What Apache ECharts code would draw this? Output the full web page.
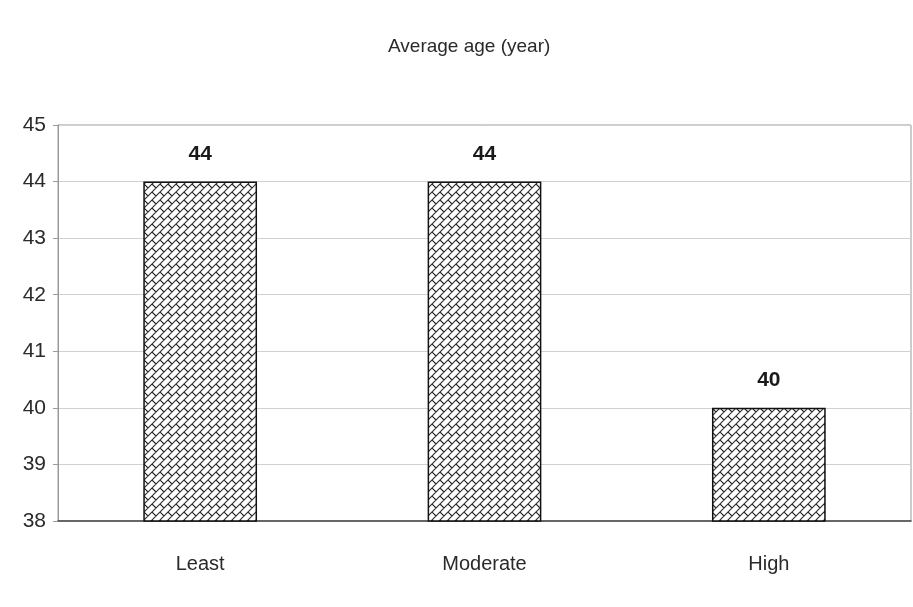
<!DOCTYPE html>
<html>
<head>
<meta charset="utf-8">
<script src="https://cdn.jsdelivr.net/npm/echarts@6/dist/echarts.min.js"></script>
<style>
  html, body { margin: 0; padding: 0; background: #ffffff; }
  #chart { width: 913px; height: 607px; }
</style>
</head>
<body>
<div id="chart"></div>
<script>
// Average age by level group
const categories = ['Least', 'Moderate', 'High'];
const averageAge = [44, 44, 40];
const yTicks = [38, 39, 40, 41, 42, 43, 44, 45];
const chartTitle = 'Average age (year)';

const FONT = "'Liberation Sans Narrow', 'Arial Narrow', 'Liberation Sans', Arial, sans-serif";

// Brick-style diagonal hatch tile (16 x 16, seamless)
function makeBrickTile() {
  const S = 16, P = 8, Q = 16;
  const c = document.createElement('canvas');
  c.width = S; c.height = S;
  const g = c.getContext('2d');
  g.fillStyle = '#ffffff';
  g.fillRect(0, 0, S, S);
  g.strokeStyle = '#2a2a2a';
  g.lineWidth = 1.1;
  g.beginPath();
  // long courses running up-right: x + y = const
  for (let k = -4; k <= 8; k++) {
    const s = P * k;
    g.moveTo(-16, s + 16);
    g.lineTo(32, s - 32);
  }
  // brick joints: x - y = const, staggered per course
  for (let r = -4; r <= 8; r++) {
    for (let j = -4; j <= 6; j++) {
      const m = Q * j - (r % 2 === 0 ? 0 : Q / 2);
      const s0 = P * r, s1 = P * r + P;
      g.moveTo((s0 + m) / 2, (s0 - m) / 2);
      g.lineTo((s1 + m) / 2, (s1 - m) / 2);
    }
  }
  g.stroke();
  return c;
}

const chart = echarts.init(document.getElementById('chart'), null, { renderer: 'canvas' });

chart.setOption({
  backgroundColor: '#ffffff',
  animation: false,
  title: {
    text: chartTitle,
    left: 383,
    top: 32,
    textStyle: { fontFamily: FONT, fontSize: 19, fontWeight: 'normal', color: '#2a2a2a' }
  },
  grid: {
    left: 58, right: 2, top: 125, bottom: 86,
    show: true,
    borderColor: '#9a9a9a',
    borderWidth: 1,
    backgroundColor: 'transparent'
  },
  xAxis: {
    type: 'category',
    data: categories,
    axisLine: { lineStyle: { color: '#444', width: 1.5 } },
    axisTick: { show: false },
    axisLabel: { fontFamily: FONT, fontSize: 20, color: '#2a2a2a', margin: 33 }
  },
  yAxis: {
    type: 'value',
    min: yTicks[0],
    max: yTicks[yTicks.length - 1],
    interval: 1,
    axisLine: { show: true, lineStyle: { color: '#9a9a9a', width: 1 } },
    axisTick: { show: true, length: 5, lineStyle: { color: '#9a9a9a' } },
    axisLabel: { fontFamily: FONT, fontSize: 21, color: '#2a2a2a', margin: 12 },
    splitLine: { show: true, lineStyle: { color: '#d0d0d0', width: 1 } }
  },
  series: [{
    type: 'bar',
    data: averageAge,
    barWidth: '40%',
    itemStyle: {
      color: { image: makeBrickTile(), repeat: 'repeat' },
      borderColor: '#111',
      borderWidth: 1.5
    },
    label: {
      show: true,
      position: 'top',
      distance: 17,
      fontFamily: FONT,
      fontSize: 21,
      fontWeight: 'bold',
      color: '#1a1a1a'
    }
  }]
});
</script>
</body>
</html>
